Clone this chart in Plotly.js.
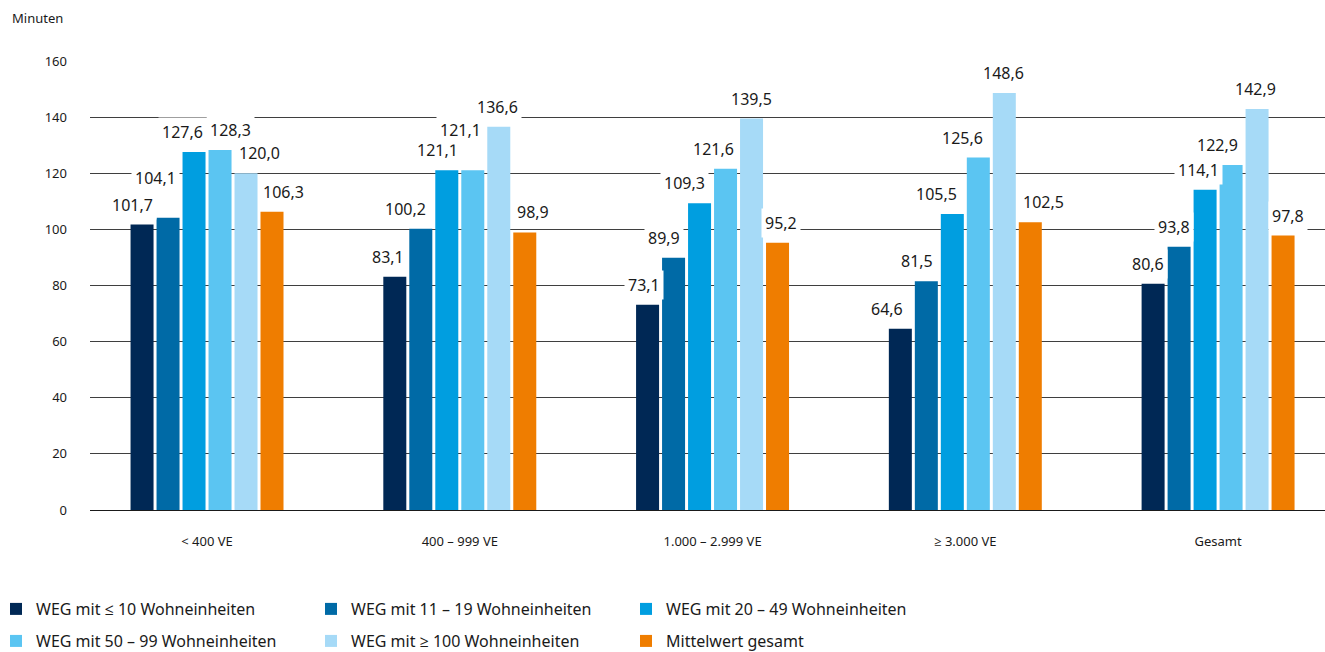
<!DOCTYPE html>
<html>
<head>
<meta charset="utf-8">
<script src="https://cdn.plot.ly/plotly-3.0.1.min.js"></script>
<style>html,body{margin:0;padding:0;background:#fff;}#chart{width:1325px;height:652px;}</style>
</head>
<body>
<div id="chart"></div>
<script>
// ---- data ----
const categories = ['< 400 VE', '400 – 999 VE', '1.000 – 2.999 VE', '≥ 3.000 VE', 'Gesamt'];
const seriesNames = [
  'WEG mit ≤ 10 Wohneinheiten',
  'WEG mit 11 – 19 Wohneinheiten',
  'WEG mit 20 – 49 Wohneinheiten',
  'WEG mit 50 – 99 Wohneinheiten',
  'WEG mit ≥ 100 Wohneinheiten',
  'Mittelwert gesamt'
];
const weg10   = [101.7, 83.1, 73.1, 64.6, 80.6];
const weg11   = [104.1, 100.2, 89.9, 81.5, 93.8];
const weg20   = [127.6, 121.1, 109.3, 105.5, 114.1];
const weg50   = [128.3, 121.1, 121.6, 125.6, 122.9];
const weg100  = [120.0, 136.6, 139.5, 148.6, 142.9];
const mittel  = [106.3, 98.9, 95.2, 102.5, 97.8];
const yTicks  = [0, 20, 40, 60, 80, 100, 120, 140, 160];

// ---- styles / layout helpers ----
const seriesValues = [weg10, weg11, weg20, weg50, weg100, mittel];
const colors = ['#002855', '#006aa6', '#009ee0', '#5bc5f2', '#a6daf7', '#ef7d00'];
const FONT = 'Noto Sans, Open Sans, sans-serif';
const TXT = '#1a1a1a';
const barPitch = 26; // px per bar slot in a group
// label offsets (px) relative to bar centre: [group][series]
const labelDx = [
  [-10, -13, -12, 10, 13, 11],
  [-7, -15, -9, -12, -1, 8],
  [-4, -10, -15, -12, 0, 3],
  [-13, -9, -16, -16, -1, 13],
  [-5, -5, -7, -14, -2, 5]
];
const labelDy = [
  [0, 20, 0, 0, 0, 0],
  [0, 0, 0, 20, 0, 0],
  [0, 0, 0, 0, 0, 0],
  [0, 0, 0, 0, 0, 0],
  [0, 0, 0, 0, 0, 0]
];

const traces = seriesValues.map((vals, i) => ({
  type: 'bar',
  name: seriesNames[i],
  x: categories,
  y: vals,
  marker: {color: colors[i]},
  legend: i < 3 ? 'legend' : 'legend2',
  hoverinfo: 'skip'
}));

const annotations = [];
seriesValues.forEach((vals, i) => {
  vals.forEach((v, g) => {
    annotations.push({
      x: categories[g], y: v, xref: 'x', yref: 'y',
      text: v.toFixed(1).replace('.', ','),
      showarrow: false,
      xanchor: 'center', yanchor: 'bottom',
      xshift: (i - 2.5) * barPitch + labelDx[g][i],
      yshift: 5 + labelDy[g][i],
      bgcolor: '#ffffff', borderpad: 3,
      font: {family: FONT, size: 16, color: TXT}
    });
  });
});
annotations.push({
  xref: 'paper', yref: 'paper', x: -0.0648, y: 1.096,
  xanchor: 'left', yanchor: 'middle', showarrow: false,
  text: 'Minuten', font: {family: FONT, size: 13, color: TXT}
});

const legendBase = {
  orientation: 'h', x: -0.0761, xanchor: 'left', yanchor: 'middle',
  entrywidth: 270, entrywidthmode: 'pixels', traceorder: 'normal',
  font: {family: FONT, size: 16, color: TXT}, bgcolor: 'rgba(0,0,0,0)'
};

const layout = {
  width: 1325, height: 652,
  margin: {l: 90, r: 0, t: 61, b: 142, autoexpand: false},
  paper_bgcolor: '#fff', plot_bgcolor: '#fff',
  barmode: 'group', bargap: 0.383, bargroupgap: 0.115,
  font: {family: FONT, color: TXT},
  xaxis: {
    type: 'category', range: [-0.463, 4.423],
    showgrid: false, zeroline: false, showline: false, ticks: '',
    ticklabelstandoff: 22,
    tickfont: {family: FONT, size: 13, color: TXT}
  },
  yaxis: {
    range: [0, 160], tickvals: yTicks, ticktext: yTicks.map(String),
    showgrid: true, gridcolor: '#3f3f3f', gridwidth: 1,
    zeroline: true, zerolinecolor: '#1a1a1a', zerolinewidth: 1,
    showline: false, ticks: '', ticklabelstandoff: 22,
    tickfont: {family: FONT, size: 13, color: TXT}
  },
  showlegend: true,
  legend: Object.assign({}, legendBase, {y: -0.2205}),
  legend2: Object.assign({}, legendBase, {y: -0.2918}),
  annotations: annotations
};

Plotly.newPlot('chart', traces, layout, {displayModeBar: false, staticPlot: true});
</script>
</body>
</html>
